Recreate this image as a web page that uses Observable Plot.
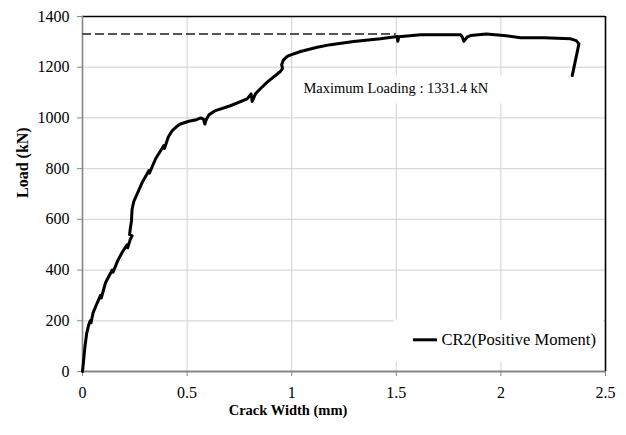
<!DOCTYPE html>
<html>
<head>
<meta charset="utf-8">
<script src="https://cdn.jsdelivr.net/npm/d3@7"></script>
<script src="https://cdn.jsdelivr.net/npm/@observablehq/plot@0.6"></script>
<style>
  html, body { margin: 0; padding: 0; background: #fff; font-family: "Liberation Serif", serif; }
  #chart svg { display: block; }
</style>
</head>
<body>
<div id="chart"></div>
<script>
// ---- Data ----
const crackWidth = [
  0, 0.005, 0.012, 0.02, 0.03, 0.037, 0.041, 0.05, 0.07, 0.086, 0.09, 0.11, 0.142, 0.146, 0.17, 0.19, 0.213, 0.216,
  0.228, 0.237, 0.225, 0.228, 0.234, 0.237, 0.245, 0.261, 0.285, 0.317, 0.32, 0.35, 0.389, 0.392, 0.41, 0.429,
  0.45, 0.468, 0.508, 0.545, 0.565, 0.578, 0.585, 0.592, 0.604, 0.636, 0.707, 0.787, 0.806, 0.811, 0.827,
  0.85, 0.883, 0.946, 0.956, 0.952, 0.96, 0.975, 0.986, 1.042, 1.122, 1.186, 1.296, 1.424, 1.504, 1.507,
  1.512, 1.616, 1.807, 1.815, 1.823, 1.84, 1.855, 1.93, 2.014, 2.094, 2.205, 2.333, 2.36, 2.373, 2.341
];
const load = [
  0, 40, 100, 150, 185, 200, 192, 230, 270, 300, 290, 350, 400, 392, 440, 470, 500, 488,
  520, 535, 540, 560, 594, 640, 670, 700, 745, 792, 782, 840, 891, 880, 925, 950,
  966, 976, 987, 993, 1000, 995, 976, 995, 1012, 1029, 1048, 1075, 1095, 1065, 1095,
  1115, 1141, 1183, 1195, 1210, 1228, 1240, 1246, 1262, 1279, 1289, 1301, 1312, 1321, 1302,
  1320, 1328, 1328, 1320, 1302, 1320, 1325, 1331.4, 1325, 1316, 1316, 1312, 1305, 1292, 1167
];
const xTicks = [0, 0.5, 1, 1.5, 2, 2.5];
const yTicks = [0, 200, 400, 600, 800, 1000, 1200, 1400];
const maxLoad = 1331.4;
const maxLineEnd = 1.5;
const seriesName = "CR2(Positive Moment)";
const annotationText = "Maximum Loading : 1331.4 kN";
const xTitle = "Crack Width (mm)";
const yTitle = "Load (kN)";

const data = crackWidth.map((x, i) => ({ x, y: load[i] }));

const serif = "Liberation Serif";
const axisGray = "#868686";
const gridGray = "#d9d9d9";

const chart = Plot.plot({
  width: 626,
  height: 435,
  marginLeft: 82,
  marginRight: 21,
  marginTop: 16,
  marginBottom: 64,
  style: { fontFamily: serif, fontSize: "16px", color: "#000", background: "#fff" },
  x: { domain: [0, 2.5] },
  y: { domain: [0, 1400] },
  marks: [
    Plot.gridX(xTicks.slice(1, -1), { stroke: gridGray, strokeOpacity: 1, strokeWidth: 1.2 }),
    Plot.gridY(yTicks.slice(1, -1), { stroke: gridGray, strokeOpacity: 1, strokeWidth: 1.2 }),
    // white boxes behind the annotation and the legend
    Plot.rect([{ a: 1.035, b: 2.02, c: 1055, d: 1165 }], { x1: "a", x2: "b", y1: "c", y2: "d", fill: "white" }),
    Plot.rect([{ a: 1.49, b: 2.49, c: 36, d: 203 }], { x1: "a", x2: "b", y1: "c", y2: "d", fill: "white" }),
    // axes lines and frame
    Plot.ruleY([1400], { stroke: "#000", strokeWidth: 1.6 }),
    Plot.ruleX([2.5], { stroke: "#000", strokeWidth: 1.6 }),
    Plot.ruleX([0], { stroke: axisGray, strokeWidth: 1.6 }),
    Plot.ruleY([0], { stroke: axisGray, strokeWidth: 2 }),
    Plot.axisX(xTicks, { tickSize: 5, tickPadding: 10, stroke: axisGray, label: null, fontSize: 16, fontFamily: serif, tickFormat: d => String(d) }),
    Plot.axisY(yTicks, { tickSize: 5, tickPadding: 8, stroke: axisGray, label: null, fontSize: 16, fontFamily: serif, tickFormat: d => String(d) }),
    // maximum load dashed line
    Plot.ruleY([maxLoad], { x1: 0, x2: maxLineEnd, stroke: "#555", strokeWidth: 2, strokeDasharray: "9,4" }),
    // curve
    Plot.line(data, { x: "x", y: "y", stroke: "#000", strokeWidth: 3, strokeLinejoin: "round", strokeLinecap: "round" }),
    // annotation
    Plot.text([annotationText], { x: 1.056, y: 1116, text: d => d, textAnchor: "start", fontSize: 14.5, fontFamily: serif, fill: "#000" }),
    // legend
    Plot.ruleY([125], { x1: 1.582, x2: 1.697, stroke: "#000", strokeWidth: 3 }),
    Plot.text([seriesName], { x: 1.716, y: 125, text: d => d, textAnchor: "start", fontSize: 16.5, fontFamily: serif, fill: "#000" }),
    // axis titles
    Plot.text([xTitle], { frameAnchor: "bottom", dx: -56, dy: 39, text: d => d, fontWeight: "bold", fontSize: 14.5, fontFamily: serif, fill: "#000", lineAnchor: "middle" }),
    Plot.text([yTitle], { frameAnchor: "left", dx: -60, dy: 4, rotate: -90, text: d => d, fontWeight: "bold", fontSize: 16, fontFamily: serif, fill: "#000" })
  ]
});

document.getElementById("chart").appendChild(chart);
</script>
</body>
</html>
